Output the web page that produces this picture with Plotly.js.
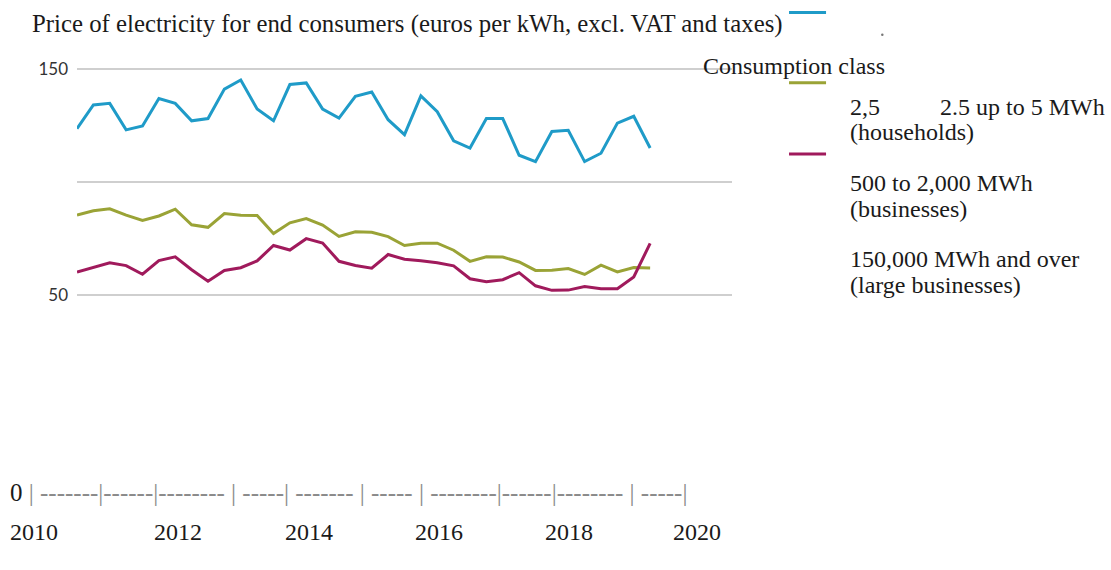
<!DOCTYPE html>
<html>
<head>
<meta charset="utf-8">
<script src="https://cdn.plot.ly/plotly-3.0.1.min.js"></script>
<style>html,body{margin:0;padding:0;background:#fff;}#chart{width:1111px;height:570px;}</style>
</head>
<body>
<div id="chart"></div>
<script>
// ---- data (quarterly, 2010 Q1 .. 2018 Q4) ----
const quarters = [];
for (let y = 2010; y <= 2018; y++) { for (let q = 0; q < 4; q++) quarters.push(y + q * 0.25); }

const households = [123.5,134,134.7,123,124.7,136.8,134.7,127,128,141,145,132.2,127,143,143.7,132.2,128.2,137.8,139.7,127.5,120.9,138,131,118.2,115,128,128,111.8,109,122.3,122.8,109,112.7,126,129,115];
const businesses = [85.4,87.3,88.2,85.4,83,85,88,81.1,80,86.1,85.3,85.2,77.3,82,83.9,81,76,78,77.8,75.9,72,73,73,69.9,65,67,66.9,64.7,61,61.1,61.8,59.2,63.3,60.3,62.3,62.1];
const largeBusinesses = [60.3,62.5,64.4,63.1,59.3,65.3,67,61.3,56.2,61,62.2,65.2,72,70,75,73.1,65,63.2,62,68,65.9,65.3,64.4,63,57.3,56,56.9,60,54.2,52.2,52.3,53.9,52.9,52.9,58.1,72.9];

const yTickVals = [50, 100, 150];
const yTickText = ["50", "", "150"];
const yearLabels = ["2010", "2012", "2014", "2016", "2018", "2020"];
const axisRuleText = "0 | -------|------|-------- | -----| ------- | ----- | --------|------|-------- | -----|";

const titleText = "Price of electricity for end consumers (euros per kWh, excl. VAT and taxes)";
const legendTitle = "Consumption class";
const legendLines = [
  "2,5          2.5 up to 5 MWh",
  "(households)",
  "500 to 2,000 MWh",
  "(businesses)",
  "150,000 MWh and over",
  "(large businesses)"
];

// ---- styling ----
const colors = ["#1f9bc8", "#9aa336", "#a01a5c"];
const W = 1111, H = 570;
const L = 77.3, R = 379, T = 46.4, B = 252.4;
const PW = W - L - R, PH = H - T - B;
const px = v => (v - L) / PW;
const py = v => (T + PH - v) / PH;
const serif = "Liberation Serif, Times New Roman, serif";

const traces = [households, businesses, largeBusinesses].map((vals, i) => ({
  type: "scatter", mode: "lines", x: quarters, y: vals,
  line: {color: colors[i], width: 3}, hoverinfo: "x+y", showlegend: false
}));

const annotations = [];
function txt(text, x, y, size, color, anchor) {
  annotations.push({text: text, x: px(x), y: py(y), xref: "paper", yref: "paper",
    xanchor: anchor || "left", yanchor: "middle", showarrow: false,
    font: {family: serif, size: size, color: color || "#1a1a1a"}});
}
txt(legendTitle, 701, 66, 24);
const legendY = [107, 132, 183, 209, 259, 285];
const legendX = [848, 848, 848, 848, 848, 848];
legendLines.forEach((t, i) => txt(t, legendX[i], legendY[i], 24));
txt("0 <span style='color:#8a8a8a'>" + axisRuleText.slice(2) + "</span>", 8, 492, 25);
const yearX = [8, 152, 283, 413, 543, 671];
yearLabels.forEach((t, i) => txt(t, yearX[i], 531, 24));

const swY = [13, 83, 154];
const shapes = swY.map((y, i) => ({type: "line", xref: "paper", yref: "paper",
  x0: px(789), x1: px(826), y0: py(y), y1: py(y), line: {color: colors[i], width: 3}}));
shapes.push({type: "circle", xref: "paper", yref: "paper", x0: px(881), x1: px(883.5), y0: py(34), y1: py(36.5),
  fillcolor: "#777", line: {width: 0}});

const layout = {
  width: W, height: H,
  margin: {l: L, r: R, t: T, b: B, pad: 0},
  paper_bgcolor: "#fff", plot_bgcolor: "#fff",
  title: {text: titleText, x: 32 / W, xanchor: "left", xref: "container",
    y: 1 - 23 / H, yanchor: "middle", yref: "container",
    font: {family: serif, size: 24.8, color: "#1a1a1a"}},
  xaxis: {range: [2010, 2020], showgrid: false, zeroline: false, showline: false,
    showticklabels: false, ticks: "", fixedrange: true},
  yaxis: {range: [40, 160], tickvals: yTickVals, ticktext: yTickText,
    showgrid: true, gridcolor: "#cfcfcf", gridwidth: 2, zeroline: false, showline: false,
    ticks: "", ticklabelstandoff: 8, tickfont: {family: "Lato, Open Sans, sans-serif", size: 17, color: "#333"},
    fixedrange: true},
  annotations: annotations,
  shapes: shapes,
  showlegend: false
};

Plotly.newPlot("chart", traces, layout, {displayModeBar: false, staticPlot: true});
</script>
</body>
</html>
